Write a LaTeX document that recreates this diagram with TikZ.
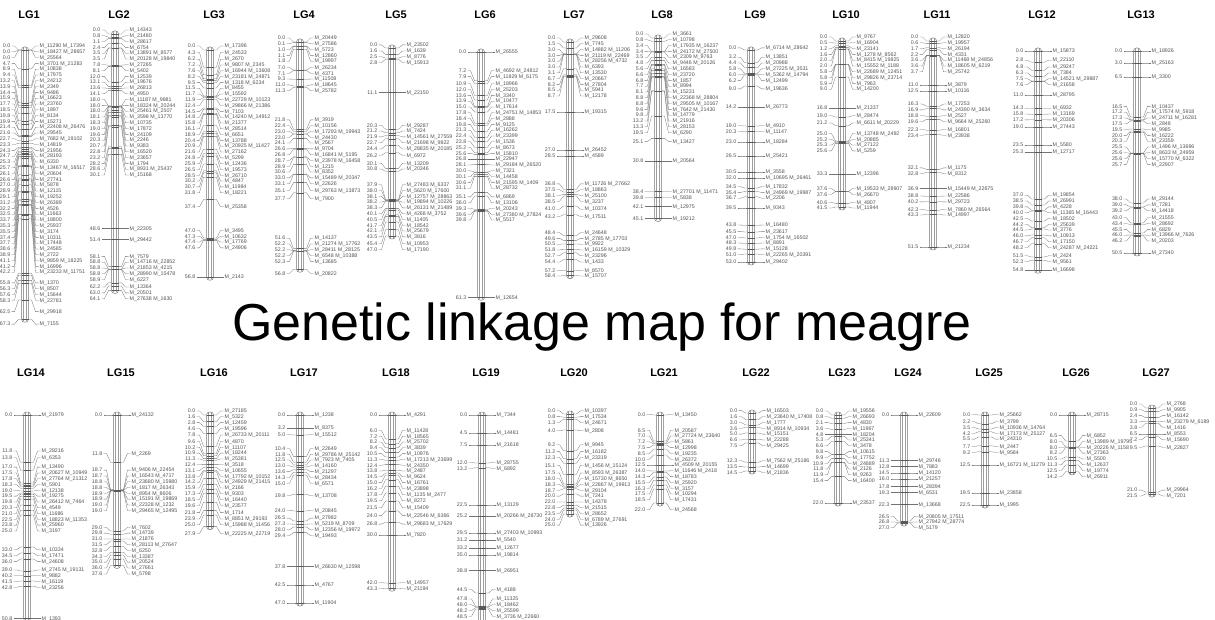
\documentclass[tikz,border=0pt]{standalone}
\usepackage{fontspec}
\setmainfont{Liberation Sans}

\definecolor{barline}{gray}{0.45}
\definecolor{barinner}{gray}{0.62}
\definecolor{tickc}{gray}{0.35}
\definecolor{connc}{gray}{0.45}
\definecolor{labc}{gray}{0.32}

\tikzset{
  lgbar/.style={draw=barline, line width=0.5pt, rounded corners=3pt, inner sep=0pt, minimum width=7pt},
  lginner/.style={draw=barinner, line width=0.35pt},
  lgtick/.style={draw=tickc, line width=0.45pt},
  lgconn/.style={draw=connc, line width=0.3pt},
  lglabel/.style={inner sep=0pt, text height=3.6pt, text depth=0pt, text=labc,
                  font=\fontsize{5.3}{5.3}\selectfont},
  lgpos/.style={lglabel, anchor=east},
  lgmark/.style={lglabel, anchor=west},
  lgtitle/.style={inner sep=0pt, font=\fontsize{11}{11}\selectfont\bfseries},
  maptitle/.style={inner sep=0pt, anchor=base, font=\fontsize{52}{52}\selectfont},
}

% map scale (pt per cM) and minimum spacing of stacked labels
\def\lgscale{4}
\def\lgsep{5.8}
\def\lgdmark{d}
\newcount\lgseed

% \lgmap{name}{bar x}{y of 0 cM}{title y}{pos[/d], ...}   (/d = two markers on one line)
\newcommand\lgmap[5]{%
  \global\advance\lgseed by 1
  \def\lgname{#1}%
  \pgfmathsetmacro\lgx{#2}%
  \pgfmathsetmacro\lgxl{#2-3.5}%
  \pgfmathsetmacro\lgxr{#2+3.5}%
  \foreach \p/\k [count=\i] in {#5}{%
    \pgfmathsetmacro\yy{#3+\p*\lgscale}%
    \expandafter\xdef\csname lgP\i\endcsname{\yy}%
    \expandafter\xdef\csname lgV\i\endcsname{\p}%
    \expandafter\xdef\csname lgK\i\endcsname{\k}%
    \xdef\lgn{\i}%
  }%
  % push labels down
  \gdef\lgprev{-500}%
  \foreach \i in {1,...,\lgn}{%
    \pgfmathsetmacro\f{max(\csname lgP\i\endcsname,\lgprev+\lgsep)}%
    \expandafter\xdef\csname lgF\i\endcsname{\f}%
    \xdef\lgprev{\f}%
  }%
  % push labels up
  \gdef\lgnext{5000}%
  \foreach \i in {\lgn,...,1}{%
    \pgfmathsetmacro\b{min(\csname lgP\i\endcsname,\lgnext-\lgsep)}%
    \expandafter\xdef\csname lgB\i\endcsname{\b}%
    \xdef\lgnext{\b}%
  }%
  % centre each cluster, never above the top of the bar
  \pgfmathsetmacro\lgtmp{#3-4-\lgsep}\xdef\lgprev{\lgtmp}%
  \foreach \i in {1,...,\lgn}{%
    \pgfmathsetmacro\yl{max((\csname lgF\i\endcsname+\csname lgB\i\endcsname)/2,\lgprev+\lgsep)}%
    \expandafter\xdef\csname lgY\i\endcsname{\yl}%
    \xdef\lgprev{\yl}%
  }%
  % title and chromosome bar
  \node[lgtitle] (#1-title) at (#2+4,#4) {#1};
  \pgfmathsetmacro\lgbot{\csname lgP\lgn\endcsname}%
  \pgfmathsetmacro\lgmid{(#3+\lgbot)/2}%
  \pgfmathsetmacro\lgh{\lgbot-#3+6}%
  \node[lgbar, minimum height=\lgh pt] (#1-bar) at (\lgx,\lgmid) {};
  \draw[lginner] (\lgx-1.5,#3-2) -- (\lgx-1.5,\lgbot+2);
  \draw[lginner] (\lgx+1.5,#3-2) -- (\lgx+1.5,\lgbot+2);
  % markers
  \foreach \i in {1,...,\lgn}{%
    \edef\yp{\csname lgP\i\endcsname}%
    \edef\yl{\csname lgY\i\endcsname}%
    \edef\vv{\csname lgV\i\endcsname}%
    \pgfmathtruncatemacro\ida{mod(\i*7+\the\lgseed*3,29)+1}%
    \pgfmathtruncatemacro\idb{mod(\i*137+\the\lgseed*53,900)+100}%
    \pgfmathtruncatemacro\idc{mod(\i*11+\the\lgseed*5,29)+1}%
    \pgfmathtruncatemacro\idd{mod(\i*263+\the\lgseed*31,900)+100}%
    \expandafter\ifx\csname lgK\i\endcsname\lgdmark
      \edef\mtext{M\noexpand\_\ida\idb\space M\noexpand\_\idc\idd}%
    \else
      \edef\mtext{M\noexpand\_\ida\idb}%
    \fi
    \coordinate (\lgname-l\i) at (\lgxl,\yp);
    \coordinate (\lgname-r\i) at (\lgxr,\yp);
    \draw[lgtick] (\lgname-l\i) -- (\lgname-r\i);
    \node[lgpos] (\lgname-pos\i) at (\lgxl-11,\yl) {\vv};
    \node[lgmark] (\lgname-mk\i) at (\lgxr+11,\yl) {\mtext};
    \draw[lgconn] (\lgname-pos\i.east) ++(1,0) -- ++(3,0)
      -- ([xshift=-3pt]\lgname-l\i) -- (\lgname-l\i);
    \draw[lgconn] (\lgname-r\i) -- ([xshift=3pt]\lgname-r\i)
      -- ([xshift=-4pt]\lgname-mk\i.west) -- ([xshift=-1pt]\lgname-mk\i.west);
  }%
}

\begin{document}
\begin{tikzpicture}[x=1pt,y=-1pt]
\useasboundingbox (0,0) rectangle (1215,620);
\clip (0,0) rectangle (1215,620);

% ---- upper row ----
\lgmap{LG1}{25}{50}{15}{0.0/d,0.0/d,0.0,4.7/d,8.9,9.4,13.2,13.9,14.4,15.9,17.7,18.5,19.8,19.9,21.4/d,21.6,22.7/d,23.3,24.3,24.7,25.3,25.7/d,26.1,26.6,27.0,28.9,29.1,31.2,32.2,32.5,33.7,35.3,35.5,37.4,37.7,38.6,38.9,41.1/d,41.2,42.2/d,55.8,56.3,57.6,58.3,62.5,67.3}
\lgmap{LG2}{115}{34}{15}{0.0,0.8,1.1,2.4,3.5/d,3.5/d,7.8,8.1,12.0,13.1,13.6,14.1,18.0/d,18.0/d,18.0/d,18.1/d,18.3,19.0,19.6,20.3,20.7,22.8,23.2,28.2,28.6/d,30.1,48.6,51.4,58.1,58.8/d,58.8/d,58.8/d,58.9,62.2,63.0,64.1/d}
\lgmap{LG3}{210}{50}{15}{0.0,4.3,6.2,7.2/d,7.6/d,8.2/d,9.5/d,11.5,11.7,11.9/d,12.4/d,14.5,14.8/d,15.8,16.1,18.9,20.4,20.9/d,21.6,24.8,25.9,26.5,28.5,30.2,30.7,31.8,37.4,47.0,47.3,47.4,47.6,56.8}
\lgmap{LG4}{300}{42}{15}{0.0,0.1,1.0,1.1,1.8,7.0,7.1,9.3,11.0,11.3,21.8,22.4,23.0/d,23.0,24.1,26.6,26.8/d,28.7/d,28.9,30.6,33.0/d,33.1,35.1/d,37.7,51.6,52.2/d,52.2/d,52.2/d,52.3,56.8}
\lgmap{LG5}{392}{48}{15}{0.0,1.6,2.5,2.8,11.1,20.3,21.2,21.9/d,22.7/d,24.4/d,26.2,30.1,30.8,37.9/d,38.0/d,38.1/d,38.2/d,38.3/d,40.1/d,40.5,41.7,42.1,43.5,45.4,47.0}
\lgmap{LG6}{481}{52}{15}{0.0,7.2/d,7.9/d,10.9,12.0,13.6,13.9,15.0,17.8/d,18.4,19.8,21.3,22.4,23.8,25.2,25.6,26.8,28.1/d,30.0,30.1,30.6/d,31.1,35.1,36.0,39.3,39.6/d,39.8,61.3}
\lgmap{LG7}{570}{42}{15}{0.0,1.5,3.0/d,3.0/d,3.0/d,3.0,3.1,6.7,8.2,8.5,8.7,17.5,27.0,28.5,36.8/d,37.5,38.1,38.5,41.0,43.2,48.4,49.6/d,50.5,51.8/d,52.7,54.4,57.2,58.4}
\lgmap{LG8}{658}{38}{15}{0.0,0.8,3.4/d,3.4/d,3.5/d,4.8/d,5.6,6.6,6.8,7.7,8.1,8.8/d,8.8/d,9.6/d,9.8,13.2,13.3,19.5,25.1,30.8,38.4/d,39.8,42.1,45.1}
\lgmap{LG9}{751}{50}{15}{0.0/d,3.2,4.4,5.8/d,6.0/d,6.2,9.0,14.2,19.0,20.3,23.0,26.5,30.5,32.0/d,34.5,35.4/d,36.7,39.5,43.8,45.5,47.0/d,48.3,49.8,51.0/d,53.0}
\lgmap{LG10}{842}{41}{15}{0.0,0.5,1.2,1.6/d,2.0/d,2.0/d,5.8/d,5.8/d,5.9,9.0,16.8,19.0,21.2/d,25.0/d,25.2,25.3,25.6,33.3,37.6/d,37.6,40.6,41.5}
\lgmap{LG11}{933}{41}{15}{0.0,0.6,1.7,2.2,3.6/d,3.6/d,3.7,11.0,12.5,16.3,16.9/d,18.8,19.6/d,22.3,23.4,32.1,32.8,36.9/d,38.8,40.2,42.3/d,43.3,51.5}
\lgmap{LG12}{1038}{51}{15}{0.0,2.8,4.8,6.3,7.5/d,7.6,11.0,14.3,15.8,17.2,19.0,23.5,25.3,37.0,38.5,39.8,40.0/d,42.5,44.2,44.5,46.0,46.7,48.2/d,51.5,52.3,54.8}
\lgmap{LG13}{1137}{51}{15}{0.0,3.0,6.5,16.5,17.2/d,17.3/d,17.5,19.5,20.0,20.3,25.5/d,25.6/d,25.6/d,25.7,38.0,39.0,39.2,43.0,43.4,45.5,46.0/d,46.2,50.5}

% ---- title ----
\node[maptitle] (map-title) at (602,340) {Genetic linkage map for meagre};

% ---- lower row ----
\lgmap{LG14}{27}{415}{373}{0.0,11.8,13.8,17.0,17.5/d,17.8/d,18.3,19.0,19.5,19.8/d,20.3,21.0,22.5/d,23.8,25.0,33.0,34.5,36.0,39.0/d,40.2,41.5,42.8,50.8}
\lgmap{LG15}{117}{415}{373}{0.0,11.8,18.7/d,18.7/d,18.8/d,18.8/d,18.9/d,18.9/d,19.0/d,19.0/d,29.0,29.8,31.0,31.5/d,32.8,34.3,35.0,36.0,37.6}
\lgmap{LG16}{210}{415}{373}{0.0,1.6,2.8,4.6,7.8/d,9.6,10.2,10.9,11.3,12.4,13.1,13.8/d,14.2/d,15.9,17.3,18.5,19.6,21.8,23.9/d,25.0/d,27.9/d}
\lgmap{LG17}{300}{415}{373}{0.0,3.2,5.0,10.4,11.8/d,12.5/d,13.0,13.6,14.3,15.0,19.8,24.0,26.5,27.3/d,28.0/d,29.4,37.8/d,42.5,47.0}
\lgmap{LG18}{392}{415}{373}{0.0,6.0,7.2,8.2,9.4,10.5,11.3/d,12.4,13.8,14.5,15.0,16.2,17.8/d,19.5,21.5,24.0/d,26.8/d,30.0,42.0,43.3}
\lgmap{LG19}{482}{415}{373}{0.0,4.5,7.5,12.0,13.2,22.5,25.2/d,29.5/d,31.2,33.2,35.0,38.8,44.5,47.8,48.0,48.2,48.5/d,53.0/d,56.0}
\lgmap{LG20}{570}{414}{373}{0.0,0.8,1.3,4.0,9.2,11.2,12.3,15.1/d,17.5/d,18.0/d,18.3/d,18.7,20.0,22.0,22.8,23.5,24.0/d,25.0}
\lgmap{LG21}{660}{415}{373}{0.0,6.5,7.0/d,7.2,7.5,8.5,10.0,12.5/d,14.0/d,14.3,15.5,16.3,17.5,18.5,22.0}
\lgmap{LG22}{752}{413}{373}{0.0,1.6/d,3.0,3.6/d,5.0,6.6,7.5,12.3/d,13.5,14.5}
\lgmap{LG23}{838}{415}{373}{0.0,0.8,2.1,3.6,4.8,5.3,6.6,9.8,9.9,10.9,11.8,11.9,15.4,22.0}
\lgmap{LG24}{904}{415}{373}{0.0,11.3,12.8,14.5,16.0,17.8,19.3,22.3,26.5/d,26.8/d,27.0}
\lgmap{LG25}{985}{415}{373}{0.0,2.2,3.5/d,4.2/d,5.5,7.7,9.2,12.5/d,19.5,22.5}
\lgmap{LG26}{1072}{415}{373}{0.0,6.5,8.0/d,8.0/d,8.2,10.5,11.3,12.5,14.2}
\lgmap{LG27}{1152}{408}{373}{0.0,0.9,2.4,3.3/d,3.8,6.5,7.2,9.5,21.0,21.5}
\end{tikzpicture}
\end{document}
